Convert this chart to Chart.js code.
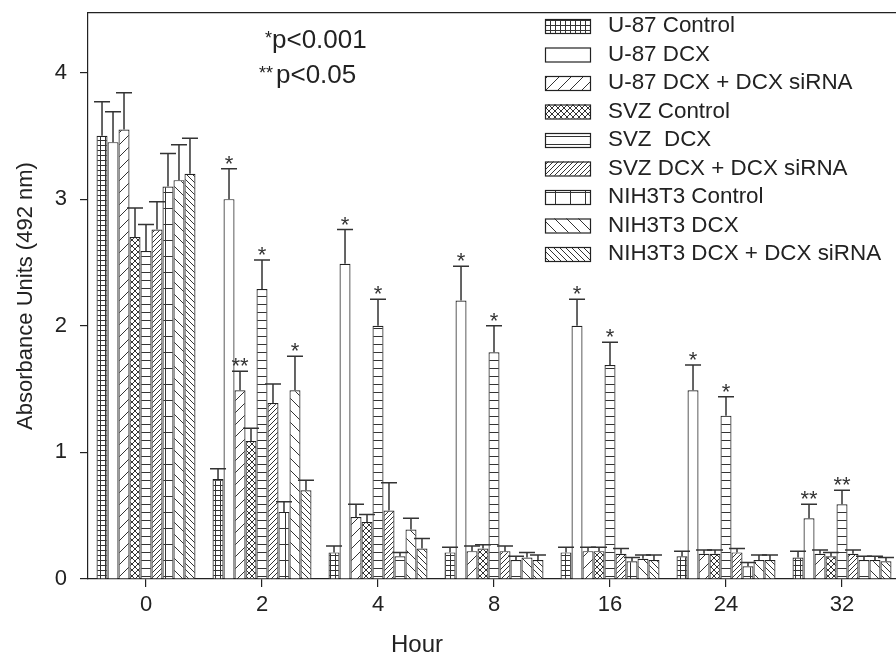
<!DOCTYPE html>
<html lang="en">
<head>
<meta charset="UTF-8">
<title>Absorbance by hour</title>
<script src="https://cdn.jsdelivr.net/npm/chart.js"></script>
<style>
  html, body { margin: 0; padding: 0; background: #fff; overflow: hidden; }
  #wrap { position: relative; width: 900px; height: 663px; }
</style>
</head>
<body>
<div id="wrap"><canvas id="myChart"></canvas></div>
<script>
// categories (hours)
const hours = ['0', '2', '4', '8', '16', '24', '32'];

const seriesNames = [
  'U-87 Control', 'U-87 DCX', 'U-87 DCX + DCX siRNA',
  'SVZ Control', 'SVZ  DCX', 'SVZ DCX + DCX siRNA',
  'NIH3T3 Control', 'NIH3T3 DCX', 'NIH3T3 DCX + DCX siRNA'
];

// mean absorbance per hour
const u87Control = [3.50, 0.79, 0.21, 0.21, 0.21, 0.18, 0.17];
const u87Dcx     = [3.45, 3.00, 2.49, 2.20, 2.00, 1.49, 0.48];
const u87Sirna   = [3.55, 1.49, 0.49, 0.22, 0.22, 0.20, 0.20];
const svzControl = [2.70, 1.09, 0.45, 0.24, 0.22, 0.20, 0.18];
const svzDcx     = [2.59, 2.29, 2.00, 1.79, 1.69, 1.29, 0.59];
const svzSirna   = [2.76, 1.39, 0.54, 0.22, 0.20, 0.21, 0.20];
const nihControl = [3.10, 0.53, 0.18, 0.15, 0.14, 0.10, 0.15];
const nihDcx     = [3.15, 1.49, 0.39, 0.17, 0.16, 0.15, 0.15];
const nihSirna   = [3.20, 0.70, 0.24, 0.15, 0.15, 0.15, 0.14];

// error (upper) per hour
const u87ControlErr = [0.27, 0.08, 0.05, 0.04, 0.04, 0.04, 0.05];
const u87DcxErr     = [0.24, 0.24, 0.27, 0.27, 0.21, 0.20, 0.11];
const u87SirnaErr   = [0.29, 0.15, 0.10, 0.04, 0.03, 0.03, 0.03];
const svzControlErr = [0.23, 0.10, 0.06, 0.03, 0.03, 0.03, 0.03];
const svzDcxErr     = [0.21, 0.23, 0.21, 0.21, 0.18, 0.15, 0.11];
const svzSirnaErr   = [0.22, 0.15, 0.22, 0.04, 0.04, 0.03, 0.03];
const nihControlErr = [0.26, 0.08, 0.03, 0.03, 0.03, 0.03, 0.03];
const nihDcxErr     = [0.28, 0.27, 0.09, 0.04, 0.03, 0.04, 0.03];
const nihSirnaErr   = [0.28, 0.08, 0.08, 0.04, 0.04, 0.04, 0.03];

// significance marks
const none = ['', '', '', '', '', '', ''];
const u87DcxSig   = ['', '*', '*', '*', '*', '*', '**'];
const u87SirnaSig = ['', '**', '', '', '', '', ''];
const svzDcxSig   = ['', '*', '*', '*', '*', '*', '**'];
const nihDcxSig   = ['', '*', '', '', '', '', ''];

const yTicks = [0, 1, 2, 3, 4];

const FONT = '"Liberation Sans", Arial, sans-serif';
const INK = '#222';

const canvas = document.getElementById('myChart');
const ctx = canvas.getContext('2d');

// hatch fills like the legend swatches
function hatch(kind, w, h) {
  const c = document.createElement('canvas');
  c.width = w; c.height = h;
  const g = c.getContext('2d');
  g.fillStyle = '#fff';
  g.fillRect(0, 0, w, h);
  g.strokeStyle = '#333';
  g.lineWidth = 1;
  g.beginPath();
  if (kind === 'grid' || kind === 'hline') { g.moveTo(0, 0.5); g.lineTo(w, 0.5); }
  if (kind === 'grid') { g.moveTo(0.5, 0); g.lineTo(0.5, h); }
  if (kind === 'slash' || kind === 'cross') {
    g.moveTo(0, h); g.lineTo(w, 0);
    g.moveTo(-1, 1); g.lineTo(1, -1);
    g.moveTo(w - 1, h + 1); g.lineTo(w + 1, h - 1);
  }
  if (kind === 'back' || kind === 'cross') {
    g.moveTo(0, 0); g.lineTo(w, h);
    g.moveTo(-1, h - 1); g.lineTo(1, h + 1);
    g.moveTo(w - 1, -1); g.lineTo(w + 1, 1);
  }
  g.stroke();
  return ctx.createPattern(c, 'repeat');
}

const fills = [
  hatch('grid', 5, 5),
  '#fff',
  hatch('slash', 12, 12),
  hatch('cross', 6, 6),
  hatch('hline', 8, 8),
  hatch('slash', 5, 5),
  hatch('grid', 15, 16),
  hatch('back', 12, 12),
  hatch('back', 6, 6)
];

const values = [u87Control, u87Dcx, u87Sirna, svzControl, svzDcx, svzSirna, nihControl, nihDcx, nihSirna];
const errors = [u87ControlErr, u87DcxErr, u87SirnaErr, svzControlErr, svzDcxErr, svzSirnaErr, nihControlErr, nihDcxErr, nihSirnaErr];
const marks = [none, u87DcxSig, u87SirnaSig, none, svzDcxSig, none, none, nihDcxSig, none];

const datasets = seriesNames.map((name, i) => ({
  label: name,
  data: values[i],
  errors: errors[i],
  sig: marks[i],
  backgroundColor: fills[i],
  borderColor: INK,
  borderWidth: 1.2,
  categoryPercentage: 0.853,
  barPercentage: 1.0
}));

// upper error bars with caps and stars
const errorBars = {
  id: 'errorBars',
  afterDatasetsDraw(chart) {
    const c = chart.ctx, y = chart.scales.y;
    c.save();
    c.strokeStyle = '#333';
    c.lineWidth = 1.5;
    c.fillStyle = '#333';
    c.font = '22px ' + FONT;
    c.textAlign = 'center';
    c.textBaseline = 'alphabetic';
    chart.data.datasets.forEach((ds, i) => {
      chart.getDatasetMeta(i).data.forEach((bar, j) => {
        const top = y.getPixelForValue(ds.data[j] + ds.errors[j]);
        c.beginPath();
        c.moveTo(bar.x, bar.y);
        c.lineTo(bar.x, top);
        c.moveTo(bar.x - 8, top);
        c.lineTo(bar.x + 8, top);
        c.stroke();
        if (ds.sig[j]) c.fillText(ds.sig[j], bar.x, top + 2);
      });
    });
    c.restore();
  }
};

// legend in the plot, p-value notes, x title
const notes = {
  id: 'notes',
  afterDraw(chart) {
    const c = chart.ctx;
    c.save();
    c.textBaseline = 'middle';
    c.textAlign = 'left';
    c.font = '22.4px ' + FONT;
    chart.data.datasets.forEach((ds, i) => {
      const cy = 26 + i * 28.5;
      c.fillStyle = ds.backgroundColor;
      c.fillRect(545, cy - 7, 45, 14);
      c.strokeStyle = INK;
      c.lineWidth = 1.2;
      c.strokeRect(545.5, cy - 6.5, 45, 14);
      c.fillStyle = INK;
      c.fillText(ds.label, 608, cy);
    });

    c.textBaseline = 'alphabetic';
    c.font = '18px ' + FONT;
    c.fillText('*', 265, 44);
    c.fillText('**', 259, 79);
    c.font = '26px ' + FONT;
    c.fillText('p<0.001', 272, 48);
    c.fillText('p<0.05', 276, 83);

    c.font = '24px ' + FONT;
    c.textAlign = 'center';
    c.textBaseline = 'middle';
    c.fillText('Hour', 417, 645);
    c.restore();
  }
};

const myChart = new Chart(ctx, {
  type: 'bar',
  data: { labels: hours, datasets: datasets },
  options: {
    responsive: true,
    maintainAspectRatio: false,
    animation: false,
    layout: { padding: 0 },
    plugins: { legend: { display: false }, tooltip: { enabled: false } },
    scales: {
      x: {
        grid: { offset: false, drawOnChartArea: false, color: INK, tickLength: 8, lineWidth: 1.2 },
        border: { color: INK, width: 1.2 },
        ticks: { color: INK, font: { family: FONT, size: 22 }, padding: 5, maxRotation: 0 },
        afterFit: s => { s.height = 84; }
      },
      x2: {
        position: 'top',
        grid: { display: false },
        ticks: { display: false },
        border: { display: true, color: INK, width: 1.2 },
        afterFit: s => { s.height = 13; s.paddingTop = 0; s.paddingBottom = 0; }
      },
      y: {
        min: 0,
        max: 4.47,
        afterBuildTicks: s => { s.ticks = yTicks.map(v => ({ value: v })); },
        ticks: { color: INK, font: { family: FONT, size: 22 }, padding: 13 },
        grid: { drawOnChartArea: false, color: INK, tickLength: 8, lineWidth: 1.2 },
        border: { color: INK, width: 1.2 },
        title: {
          display: true,
          text: 'Absorbance Units (492 nm)',
          color: INK,
          font: { family: FONT, size: 22 },
          padding: { top: 13, bottom: 0 }
        },
        afterFit: s => { s.width = 88; s.paddingTop = 0; s.paddingBottom = 0; }
      }
    }
  },
  plugins: [errorBars, notes]
});
</script>
</body>
</html>
